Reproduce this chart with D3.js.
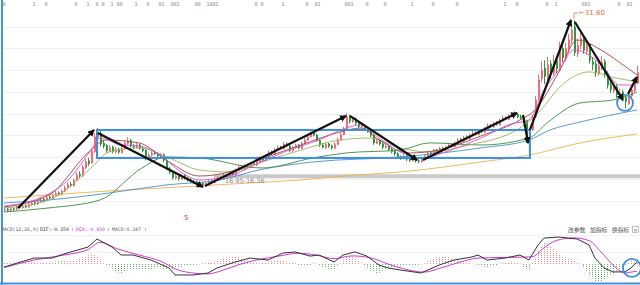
<!DOCTYPE html>
<html>
<head>
<meta charset="utf-8">
<script src="https://cdn.jsdelivr.net/npm/d3@7"></script>
<style>
  html, body { margin: 0; padding: 0; background: #fff; }
  svg { display: block; font-family: "DejaVu Sans", sans-serif; }
</style>
</head>
<body>
<svg id="chart"></svg>
<script>
// daily candles, index 0..211
const OPEN = [
  14.15,14.25,14.10,14.30,14.20,14.45,14.35,14.55,14.40,14.60,
  14.85,14.70,14.90,15.15,15.00,15.35,15.20,15.45,15.75,15.55,
  15.85,16.15,16.55,16.35,16.85,17.45,17.25,18.00,18.70,18.45,
  19.50,20.80,21.20,20.30,20.10,19.55,19.95,19.45,19.75,19.40,
  19.75,20.25,20.55,20.05,19.85,20.15,19.85,19.65,18.85,19.15,
  19.45,19.35,19.05,19.25,18.75,17.95,17.65,17.05,17.35,16.95,
  17.35,17.10,16.95,16.75,16.75,16.50,16.65,16.40,16.60,16.85,
  16.65,16.90,17.15,16.95,17.35,17.15,17.55,17.35,17.75,18.15,
  17.85,18.25,18.05,18.45,18.25,18.55,18.95,18.65,19.05,19.45,
  19.25,19.65,19.95,19.75,20.25,20.05,19.55,19.85,20.15,19.80,
  20.25,20.55,20.85,21.25,21.05,20.55,20.15,19.85,20.25,20.05,
  19.80,20.15,20.55,21.05,21.45,22.75,22.25,22.55,22.15,21.75,
  21.95,21.65,21.45,21.05,20.25,20.55,20.25,19.85,20.05,19.75,
  19.55,19.35,19.05,18.85,19.15,18.85,18.65,18.90,18.70,18.55,
  18.85,19.05,19.45,19.25,19.65,19.45,19.85,19.65,19.85,20.15,
  19.95,20.25,20.65,20.45,20.85,20.65,20.95,21.25,21.05,21.45,
  21.25,21.55,21.95,21.75,22.15,21.95,22.35,22.65,22.45,22.75,
  23.05,22.95,22.75,22.65,22.40,20.70,21.50,22.70,24.40,26.20,
  27.20,26.30,27.60,26.70,27.90,27.00,29.00,28.00,28.90,29.70,
  31.00,28.50,29.20,30.00,28.70,29.40,27.80,27.60,26.70,27.30,
  27.80,26.70,25.70,25.10,25.50,24.60,25.00,24.50,23.90,24.60,25.10,25.80
];
const HIGH = [
  14.40,14.35,14.45,14.40,14.55,14.60,14.70,14.65,14.80,15.00,
  14.95,15.10,15.30,15.25,15.45,15.50,15.65,15.90,15.85,16.05,
  16.40,16.70,16.75,17.05,17.60,17.70,18.30,18.85,18.95,19.80,
  21.20,21.70,21.40,20.60,20.20,20.10,20.05,19.90,19.85,20.00,
  20.50,20.85,20.70,20.25,20.30,20.25,19.95,19.75,19.40,19.55,
  19.60,19.45,19.40,19.35,18.85,18.10,17.75,17.50,17.45,17.45,
  17.45,17.20,17.05,16.90,16.85,16.75,16.75,16.80,16.95,16.95,
  17.10,17.25,17.25,17.45,17.45,17.65,17.70,17.95,18.30,18.25,
  18.35,18.40,18.55,18.60,18.75,19.10,19.05,19.25,19.60,19.60,
  19.85,20.10,20.05,20.40,20.35,20.10,20.05,20.25,20.20,20.45,
  20.80,21.10,21.50,21.40,21.15,20.65,20.30,20.35,20.30,20.15,
  20.35,20.80,21.30,21.80,23.05,22.90,22.70,22.65,22.25,22.10,
  22.05,21.75,21.55,21.10,20.70,20.65,20.35,20.20,20.15,19.85,
  19.65,19.45,19.15,19.25,19.20,18.95,19.00,18.95,18.80,19.05,
  19.25,19.55,19.55,19.75,19.75,19.95,19.95,20.05,20.30,20.25,
  20.45,20.75,20.80,20.95,21.00,21.15,21.40,21.35,21.55,21.60,
  21.75,22.10,22.05,22.25,22.30,22.55,22.80,22.75,22.95,23.10,
  23.20,23.05,22.90,22.75,22.45,21.70,22.90,24.60,26.60,27.80,
  27.90,28.20,27.90,28.40,28.20,29.60,29.30,29.50,30.30,31.10,
  31.60,29.90,30.40,30.20,29.80,29.50,28.20,27.90,27.90,28.30,
  28.00,26.90,26.00,25.80,25.70,25.30,25.20,24.60,25.00,25.50,26.30,27.40
];
const LOW = [
  14.00,13.95,14.00,14.05,14.10,14.25,14.25,14.30,14.35,14.50,
  14.55,14.60,14.85,14.85,14.95,15.10,15.15,15.40,15.45,15.50,
  15.80,16.05,16.25,16.30,16.80,17.10,17.20,17.90,18.20,18.40,
  19.40,20.60,20.00,19.80,19.40,19.45,19.35,19.35,19.30,19.35,
  19.70,20.15,19.90,19.75,19.80,19.70,19.45,18.70,18.80,19.05,
  19.20,19.00,18.95,18.55,17.85,17.45,16.95,16.95,16.85,16.90,
  16.95,16.75,16.65,16.55,16.40,16.42,16.36,16.38,16.55,16.60,
  16.60,16.85,16.90,16.90,17.10,17.10,17.30,17.30,17.70,17.80,
  17.80,18.00,18.00,18.20,18.20,18.50,18.60,18.60,19.00,19.20,
  19.20,19.60,19.70,19.70,19.90,19.45,19.50,19.80,19.75,19.75,
  20.20,20.50,20.80,20.90,20.40,19.95,19.80,19.75,19.85,19.70,
  19.75,20.10,20.50,21.00,21.40,22.10,22.15,21.95,21.65,21.65,
  21.45,21.25,20.85,20.15,20.20,20.05,19.75,19.80,19.55,19.35,
  19.15,18.85,18.75,18.80,18.65,18.55,18.60,18.50,18.45,18.50,
  18.80,19.00,19.20,19.20,19.40,19.40,19.60,19.60,19.80,19.90,
  19.90,20.20,20.40,20.40,20.60,20.60,20.90,21.00,21.00,21.20,
  21.20,21.50,21.70,21.70,21.90,21.90,22.30,22.40,22.40,22.70,
  22.80,22.60,22.45,22.15,20.30,20.50,21.40,22.60,24.20,25.90,
  25.70,26.10,26.20,26.50,26.70,26.90,27.70,27.80,28.60,29.40,
  28.30,28.20,28.90,28.50,28.40,27.60,27.00,26.40,26.50,27.00,
  26.30,25.30,24.90,24.90,24.40,24.40,24.10,23.50,23.80,24.40,25.00,25.70
];
const CLOSE = [
  14.25,14.10,14.30,14.20,14.45,14.35,14.50,14.40,14.65,14.80,
  14.70,14.95,15.10,15.00,15.30,15.25,15.50,15.70,15.60,15.90,
  16.20,16.50,16.40,16.90,17.40,17.30,18.10,18.60,18.40,19.60,
  20.90,21.30,20.20,20.00,19.60,19.90,19.50,19.70,19.45,19.80,
  20.30,20.50,20.00,19.90,20.10,19.80,19.60,18.90,19.20,19.40,
  19.30,19.10,19.20,18.70,18.00,17.60,17.10,17.30,17.00,17.30,
  17.10,16.90,16.80,16.70,16.55,16.60,16.45,16.65,16.80,16.70,
  16.95,17.10,17.00,17.30,17.20,17.50,17.40,17.80,18.10,17.90,
  18.20,18.10,18.40,18.30,18.60,18.90,18.70,19.10,19.40,19.30,
  19.70,19.90,19.80,20.20,20.00,19.60,19.90,20.10,19.85,20.30,
  20.60,20.90,21.20,21.00,20.50,20.10,19.90,20.20,20.00,19.85,
  20.20,20.60,21.10,21.50,22.70,22.30,22.50,22.10,21.80,21.90,
  21.60,21.40,21.00,20.30,20.50,20.20,19.90,20.00,19.70,19.50,
  19.30,19.00,18.90,19.10,18.80,18.70,18.85,18.65,18.60,18.90,
  19.10,19.40,19.30,19.60,19.50,19.80,19.70,19.90,20.10,20.00,
  20.30,20.60,20.50,20.80,20.70,21.00,21.20,21.10,21.40,21.30,
  21.60,21.90,21.80,22.10,22.00,22.40,22.60,22.50,22.80,23.00,
  22.90,22.70,22.60,22.30,20.80,21.40,22.60,24.30,26.10,27.00,
  26.40,27.50,26.80,27.70,27.10,28.90,28.10,29.00,29.80,30.70,
  28.60,29.30,29.90,28.80,29.30,27.90,27.50,26.80,27.40,27.70,
  26.60,25.60,25.20,25.40,24.70,24.90,24.40,24.10,24.70,25.20,25.90,26.80
];

// moving averages, read as [candle index, price]
const MA10 = [[0,14.52],[12,15.26],[22,17.09],[29,19.66],[32,20.76],[39,20.12],[45,20.03],[52,19.2],[59,17.64],[65,16.91],[75,17.27],[85,18.47],[95,19.66],[105,20.58],[114,21.68],[119,21.96],[125,20.76],[132,19.48],[139,18.93],[149,19.66],[159,20.76],[169,22.05],[175,22.42],[180,25.17],[185,27.01],[190,28.85],[195,28.39],[200,27.19],[205,25.63],[209,25.63],[211,26.27]];
const MA20 = [[0,14.43],[15,15.53],[29,19.66],[34,20.58],[45,20.31],[55,18.56],[65,17.27],[75,17.64],[85,18.74],[99,20.12],[112,21.31],[119,21.68],[125,20.58],[135,19.39],[145,19.66],[159,20.95],[172,22.42],[177,23.34],[185,26.83],[191,29.76],[199,28.85],[205,27.74],[211,26.55]];
const MA30 = [[0,14.34],[15,15.07],[29,18.01],[35,19.48],[45,19.85],[55,18.93],[65,17.83],[75,17.64],[85,18.47],[99,19.66],[112,20.58],[122,20.76],[132,19.85],[142,19.48],[155,20.12],[172,21.68],[179,23.34],[185,25.36],[195,26.83],[204,26.27],[211,25.91]];
const MA60 = [[0,13.97],[15,14.34],[32,15.07],[46,18.01],[54,19.02],[65,18.93],[86,18.01],[103,18.93],[114,19.39],[132,19.66],[142,20.31],[159,20.12],[175,20.76],[181,22.14],[192,23.98],[203,24.25],[211,24.99]];
const MA120 = [[0,14.8],[15,15.07],[35,15.71],[54,16.45],[72,16.91],[85,17.83],[103,18.56],[132,19.02],[159,19.85],[175,20.58],[182,21.5],[192,22.23],[211,23.34]];
const MA250 = [[0,15.25],[10,15.44],[35,15.9],[59,16.27],[82,16.63],[99,16.91],[114,17.3],[132,17.64],[159,18.56],[175,19.2],[192,20.31],[211,21.13]];

// MACD(12,26,9)
const DIF = [[0,-0.17],[10,0.33],[16,0.33],[21,0.61],[28,0.94],[31,1.39],[36,0.94],[39,0.5],[43,0.5],[49,0.22],[55,-0.22],[57,-0.61],[63,-0.61],[68,-0.5],[71,-0.22],[77,0.11],[82,0.33],[88,0.22],[93,0.61],[97,0.67],[102,0.44],[105,0.5],[110,0.11],[113,0.5],[117,0.67],[121,0.44],[125,-0.06],[128,-0.22],[132,-0.33],[139,-0.5],[145,-0.06],[150,0.22],[156,0.39],[158,0.5],[161,0.22],[167,0.33],[172,0.5],[175,0.22],[178,1.06],[180,1.44],[185,1.5],[188,1.44],[191,1.39],[195,1.06],[197,0.33],[200,-0.22],[203,-0.44],[207,-0.44],[209,-0.22],[211,0.11]];
const DEA = [[0,-0.2],[10,0.22],[20,0.5],[28,0.8],[32,1.2],[38,0.83],[45,0.5],[52,0.17],[58,-0.33],[63,-0.5],[68,-0.55],[72,-0.4],[78,-0.05],[85,0.25],[92,0.45],[98,0.6],[104,0.5],[110,0.3],[116,0.45],[122,0.35],[128,0.0],[134,-0.3],[140,-0.45],[146,-0.2],[152,0.1],[158,0.33],[165,0.36],[172,0.38],[176,0.4],[180,0.9],[184,1.3],[190,1.45],[195,1.3],[199,0.67],[203,-0.05],[207,-0.5],[209,-0.45],[211,-0.4]];
const HIST = [
  0.05,0.06,0.08,
  0.10,0.12,0.14,0.13,0.15,0.16,0.14,0.12,0.10,
  0.08,0.06,0.08,0.10,
  0.12,0.15,0.18,0.20,0.22,0.20,0.18,0.22,0.25,0.28,
  0.35,0.42,0.48,0.50,0.52,0.45,0.25,
  0.05,-0.05,-0.15,
  -0.30,-0.40,-0.48,-0.52,-0.45,-0.35,-0.32,-0.30,-0.28,-0.30,-0.28,
  -0.30,-0.32,-0.28,-0.25,-0.22,-0.25,-0.28,-0.30,-0.35,-0.32,-0.25,-0.20,-0.15,
  -0.12,-0.10,-0.08,-0.06,-0.04,-0.02,
  0.04,0.06,0.08,0.12,0.15,0.20,0.25,
  0.30,0.35,0.38,0.40,0.42,0.40,0.35,0.30,0.25,0.20,
  0.10,0.05,0.03,0.06,
  0.10,0.15,0.18,0.20,0.22,0.20,0.18,0.15,0.12,0.10,0.05,
  -0.05,-0.08,-0.10,-0.08,-0.05,
  0.03,0.02,-0.05,
  -0.15,-0.25,-0.30,-0.32,-0.28,-0.12,
  0.10,0.25,0.38,0.42,0.40,0.30,0.15,
  0.02,-0.10,
  -0.25,-0.35,-0.45,-0.50,-0.48,-0.42,-0.35,-0.25,
  -0.20,-0.18,-0.15,-0.15,-0.12,-0.10,-0.12,-0.10,-0.08,-0.06,-0.03,
  0.05,0.15,0.25,0.32,0.36,0.40,0.42,0.40,0.38,0.35,0.32,0.28,0.22,0.15,0.10,0.05,
  0.02,-0.02,-0.06,
  -0.12,-0.15,-0.18,-0.15,-0.12,-0.08,
  0.03,0.06,0.10,0.12,0.14,0.10,0.06,0.02,
  -0.20,-0.35,-0.30,0.05,
  0.35,0.70,1.00,1.20,1.15,1.00,0.85,0.70,0.55,0.45,
  0.35,0.30,0.28,0.20,0.10,0.02,
  -0.20,-0.40,-0.60,-0.80,-0.95,-1.00,-0.95,-0.85,-0.75,
  -0.60,-0.55,-0.45,-0.35,-0.25,-0.12,
  0.10,0.20,0.28,0.35
];

// drawn annotations: [index1, price1, index2, price2]
const ARROWS = [
  [4.7,14.34,30,21.5],[31.3,21.22,66.3,16.27],[67,16.36,114,22.79],
  [115.3,22.79,137.7,18.74],[139.7,18.74,171,23.06],[173,22.88,174.7,20.3],
  [175.3,21.5,189,31.6],[190.3,31.42,206.3,24.25],[208,24.8,211,26.37]
];
const BOX = [31, 21.5, 175.3, 18.93];
const PRICE_RING = [207, 23.98];
const MACD_RING = [209.3, -0.22];
const BAND_PRICE = 17.25, BAND_FROM = 70;
const GRID_PRICES = [31, 29, 27, 25, 23, 21, 19, 17, 15];
const MACD_GRID = [1.6, 0.67];
const TOP_MARKS = [0,10,14,24,28,31,33,36,38,39,44,48,52,53,56,57,58,64,65,68,69,70,71,84,86,93,101,104,105,114,115,116,121,127,136,143,151,167,171,181,184,193,194,195,205,208,209];
const HIGH_LABEL = "31.60";
const LOW_LABEL = "16.95-16.36";
const MACD_TITLE = [
  ["MACD(12,26,9)", "#555"], ["DIF:-0.250", "#333"], ["\u2191", "#8a3a8a"],
  ["DEA:-0.430", "#d23ad2"], ["\u2191", "#8a3a8a"], ["MACD:0.347", "#666"], ["\u2191", "#8a3a8a"]
];
const MACD_TITLE_X = [1, 40, 71, 76, 107, 112, 144];
const TOOL_LABELS = ["改参数", "加指标", "换指标"];
const TOOL_X = [568, 590, 612];

const W = 640, H = 285;
const svg = d3.select("#chart").attr("width", W).attr("height", H);

const x = d3.scaleLinear().domain([0, 211]).range([4, 637]);
const y = d3.scaleLinear().domain([12, 32.5]).range([233.4, 10.2]);
const ym = d3.scaleLinear().domain([-1, 1.5]).range([282, 237]);

// grid
svg.append("g").selectAll("line").data(GRID_PRICES).join("line")
  .attr("x1", 3).attr("x2", W)
  .attr("y1", d => Math.round(y(d)) + 0.5).attr("y2", d => Math.round(y(d)) + 0.5)
  .attr("stroke", "#f1f1f1");
svg.append("g").selectAll("line").data(MACD_GRID).join("line")
  .attr("x1", 3).attr("x2", W)
  .attr("y1", d => Math.round(ym(d)) + 0.5).attr("y2", d => Math.round(ym(d)) + 0.5)
  .attr("stroke", "#f3f3f3");

// top marker row
svg.append("g").selectAll("text").data(TOP_MARKS).join("text")
  .attr("x", d => x(d)).attr("y", 6)
  .attr("text-anchor", "middle")
  .attr("font-size", 5).attr("fill", "#888")
  .text((d, i) => i % 3 === 1 ? "1" : "8");

// gray support band
svg.append("line")
  .attr("x1", x(BAND_FROM)).attr("x2", W)
  .attr("y1", y(BAND_PRICE)).attr("y2", y(BAND_PRICE))
  .attr("stroke", "#c9c9c9").attr("stroke-width", 4);

const candles = CLOSE.map((c, i) => ({ i, o: OPEN[i], h: Math.max(HIGH[i], OPEN[i], c), l: Math.min(LOW[i], OPEN[i], c), c }));
const upCol = "#f06b7c", downCol = "#2a9a3b";

const main = svg.append("g");
main.selectAll("line.wick").data(candles).join("line")
  .attr("class", "wick")
  .attr("x1", d => Math.round(x(d.i)) + 0.5).attr("x2", d => Math.round(x(d.i)) + 0.5)
  .attr("y1", d => y(d.h)).attr("y2", d => y(d.l))
  .attr("stroke", d => d.c >= d.o ? upCol : downCol);
main.selectAll("rect.body").data(candles).join("rect")
  .attr("class", "body")
  .attr("x", d => Math.round(x(d.i)))
  .attr("width", 2)
  .attr("y", d => y(Math.max(d.o, d.c)))
  .attr("height", d => Math.max(1, Math.abs(y(d.o) - y(d.c))))
  .attr("fill", d => d.c >= d.o ? upCol : downCol);

// moving averages
const maLine = d3.line().x(d => x(d[0])).y(d => y(d[1])).curve(d3.curveMonotoneX);
[[MA250, "#f2b04a"], [MA120, "#4b8fd2"], [MA60, "#3d8d3d"], [MA30, "#9cb45c"], [MA20, "#9e4640"], [MA10, "#e04fd6"]]
  .forEach(([d, c]) => {
    main.append("path").datum(d).attr("d", maLine)
      .attr("fill", "none").attr("stroke", c).attr("stroke-width", 1).attr("opacity", 0.9);
  });

// box and ring
main.append("rect")
  .attr("x", x(BOX[0])).attr("y", y(BOX[1]))
  .attr("width", x(BOX[2]) - x(BOX[0])).attr("height", y(BOX[3]) - y(BOX[1]))
  .attr("fill", "none").attr("stroke", "#3b8fdd").attr("stroke-width", 2);
main.append("circle")
  .attr("cx", x(PRICE_RING[0])).attr("cy", y(PRICE_RING[1])).attr("r", 8)
  .attr("fill", "none").attr("stroke", "#3b8fdd").attr("stroke-width", 1.8);

// arrows
svg.append("defs").append("marker")
  .attr("id", "ah").attr("markerUnits", "userSpaceOnUse")
  .attr("markerWidth", 8).attr("markerHeight", 8)
  .attr("refX", 6).attr("refY", 3.5).attr("orient", "auto")
  .append("path").attr("d", "M0,0L7,3.5L0,7Z").attr("fill", "#111");
main.selectAll("line.arrow").data(ARROWS).join("line")
  .attr("class", "arrow")
  .attr("x1", d => x(d[0])).attr("y1", d => y(d[1]))
  .attr("x2", d => x(d[2])).attr("y2", d => y(d[3]))
  .attr("stroke", "#111").attr("stroke-width", 2.2)
  .attr("marker-end", "url(#ah)");

// high / low labels
const hx = x(190), hy = y(31.6);
main.append("path").attr("d", `M${hx},${hy - 1}L${hx},${hy - 7}L${hx + 4},${hy - 7}`)
  .attr("fill", "none").attr("stroke", "#e0703a").attr("stroke-width", 0.8);
main.append("text").attr("x", hx + 5).attr("y", hy - 5)
  .attr("font-size", 7).attr("fill", "#e0703a").text("\u2190" + HIGH_LABEL);
main.append("text").attr("x", 225).attr("y", y(16.9) + 3)
  .attr("font-size", 6.5).attr("fill", "#888").text(LOW_LABEL);
svg.append("text").attr("x", 184).attr("y", 220)
  .attr("font-size", 7).attr("fill", "#e03030").text("5");

// MACD panel
const mg = svg.append("g");
mg.selectAll("line.hist").data(HIST).join("line")
  .attr("class", "hist")
  .attr("x1", (d, i) => Math.round(x(i)) + 0.5).attr("x2", (d, i) => Math.round(x(i)) + 0.5)
  .attr("y1", ym(0)).attr("y2", d => ym(d))
  .attr("stroke", d => d >= 0 ? "#f08a8a" : "#6ab36a")
  .attr("stroke-dasharray", "1,1");
mg.append("path").datum(DEA)
  .attr("d", d3.line().x(d => x(d[0])).y(d => ym(d[1])).curve(d3.curveMonotoneX))
  .attr("fill", "none").attr("stroke", "#d23ad2").attr("stroke-width", 1);
mg.append("path").datum(DIF)
  .attr("d", d3.line().x(d => x(d[0])).y(d => ym(d[1])))
  .attr("fill", "none").attr("stroke", "#333").attr("stroke-width", 1);
mg.append("circle")
  .attr("cx", x(MACD_RING[0])).attr("cy", ym(MACD_RING[1])).attr("r", 9)
  .attr("fill", "none").attr("stroke", "#3b8fdd").attr("stroke-width", 1.8);

// MACD title
mg.selectAll("text.title").data(MACD_TITLE).join("text")
  .attr("class", "title")
  .attr("x", (d, i) => MACD_TITLE_X[i]).attr("y", 231)
  .attr("font-family", "DejaVu Sans Mono, monospace")
  .attr("font-size", 4.8).attr("fill", d => d[1]).text(d => d[0]);
mg.selectAll("text.tool").data(TOOL_LABELS).join("text")
  .attr("class", "tool")
  .attr("x", (d, i) => TOOL_X[i]).attr("y", 232)
  .attr("font-family", "Noto Sans CJK SC, sans-serif")
  .attr("font-size", 5.8).attr("fill", "#555").text(d => d);
mg.append("rect").attr("x", 632.5).attr("y", 226.5).attr("width", 6).attr("height", 6)
  .attr("fill", "none").attr("stroke", "#999").attr("stroke-width", 0.6);
mg.append("text").attr("x", 635.5).attr("y", 231.5).attr("text-anchor", "middle")
  .attr("font-size", 5.5).attr("fill", "#666").text("\u00d7");

// frame
svg.append("line").attr("x1", 2).attr("x2", 2).attr("y1", 0).attr("y2", H)
  .attr("stroke", "#4a90d9").attr("stroke-width", 2);
svg.append("line").attr("x1", 0).attr("x2", W).attr("y1", 283.5).attr("y2", 283.5)
  .attr("stroke", "#4a90d9").attr("stroke-width", 2);
</script>
</body>
</html>
